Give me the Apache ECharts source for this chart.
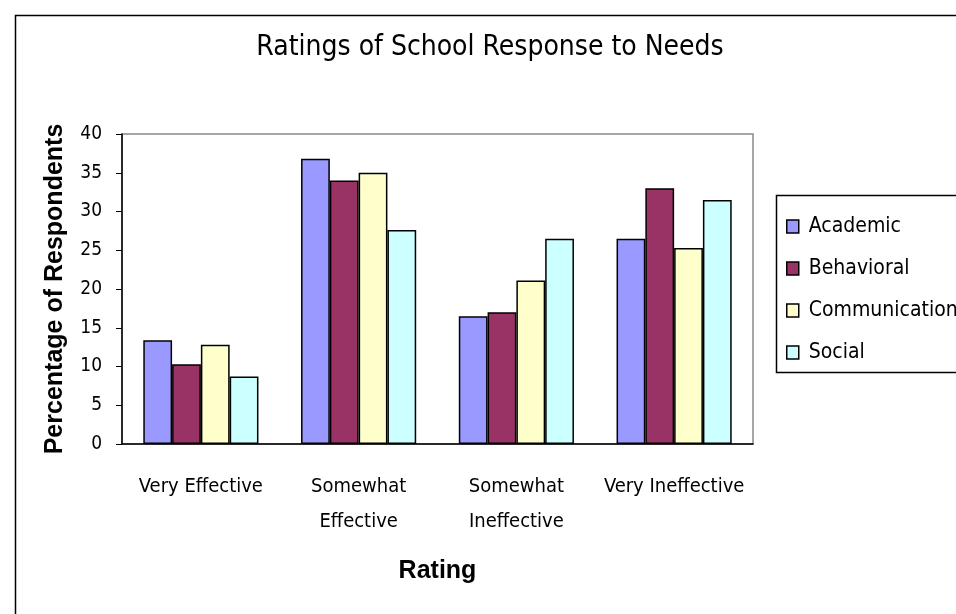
<!DOCTYPE html>
<html>
<head>
<meta charset="utf-8">
<title>Ratings of School Response to Needs</title>
<script src="https://cdn.jsdelivr.net/npm/echarts@6/dist/echarts.min.js"></script>
<style>
    html, body { margin: 0; padding: 0; background: #fff; }
    #main { width: 956px; height: 614px; }
</style>
</head>
<body>
<div id="main"></div>
<script>
    // data
    var categories = ['Very Effective', 'Somewhat\nEffective', 'Somewhat\nIneffective', 'Very Ineffective'];
    var seriesNames = ['Academic', 'Behavioral', 'Communication', 'Social'];
    var academic = [13.4, 36.8, 16.5, 26.5];
    var behavioral = [10.3, 34.0, 17.0, 33.0];
    var communication = [12.8, 35.0, 21.1, 25.3];
    var social = [8.7, 27.6, 26.5, 31.5];
    var yTicks = [0, 5, 10, 15, 20, 25, 30, 35, 40];

    var colors = ['#9999FF', '#993366', '#FFFFCC', '#CCFFFF'];
    var narrow = '"Liberation Sans Narrow", "DejaVu Sans Condensed", Arial, sans-serif';
    var bold = '"Liberation Sans", Arial, sans-serif';

    var myChart = echarts.init(document.getElementById('main'));

    function bar(name, data, i) {
        return {
            name: name,
            type: 'bar',
            data: data,
            barGap: '0%',
            barCategoryGap: '27%',
            itemStyle: {color: colors[i], borderColor: '#000', borderWidth: 1.5},
            emphasis: {disabled: true}
        };
    }

    var option = {
        animation: false,
        backgroundColor: '#fff',
        title: {
            text: 'Ratings of School Response to Needs',
            left: 485,
            textAlign: 'center',
            top: 29,
            textStyle: {fontFamily: narrow, fontSize: 28, fontWeight: 'normal', color: '#000'}
        },
        legend: {
            orient: 'vertical',
            left: 786,
            top: 216,
            padding: 0,
            itemWidth: 12,
            itemHeight: 13,
            itemGap: 21,
            icon: 'rect',
            data: seriesNames,
            itemStyle: {borderColor: '#000', borderWidth: 1.5},
            textStyle: {fontFamily: narrow, fontSize: 21, color: '#000', padding: [0, 0, 0, 5]}
        },
        grid: {
            left: 122,
            top: 134,
            width: 631,
            height: 310,
            show: true,
            borderColor: '#888',
            borderWidth: 1.5
        },
        xAxis: {
            type: 'category',
            data: categories,
            name: 'Rating',
            nameLocation: 'middle',
            nameGap: 115,
            nameTextStyle: {fontFamily: bold, fontSize: 25, fontWeight: 'bold', color: '#000'},
            axisLine: {lineStyle: {color: '#000', width: 1.5}},
            axisTick: {length: 10, lineStyle: {color: '#000'}},
            axisLabel: {
                margin: 25,
                fontFamily: narrow,
                fontSize: 20,
                lineHeight: 35,
                color: '#000',
                interval: 0
            }
        },
        yAxis: {
            type: 'value',
            min: yTicks[0],
            max: yTicks[yTicks.length - 1],
            interval: 5,
            name: 'Percentage of Respondents',
            nameLocation: 'middle',
            nameGap: 54,
            nameTextStyle: {fontFamily: bold, fontSize: 25, fontWeight: 'bold', color: '#000'},
            splitLine: {show: false},
            axisLine: {show: true, lineStyle: {color: '#000', width: 1.5}},
            axisTick: {show: true, length: 6, lineStyle: {color: '#000'}},
            axisLabel: {margin: 20, fontFamily: narrow, fontSize: 19, color: '#000'}
        },
        graphic: [
            {
                // outer chart frame
                type: 'rect',
                shape: {x: 15.5, y: 15.5, width: 1200, height: 1200},
                style: {fill: 'none', stroke: '#000', lineWidth: 1.5},
                silent: true
            },
            {
                // legend box
                type: 'rect',
                shape: {x: 776.5, y: 195.5, width: 400, height: 177},
                style: {fill: 'none', stroke: '#000', lineWidth: 1.5},
                silent: true
            }
        ],
        series: [
            bar(seriesNames[0], academic, 0),
            bar(seriesNames[1], behavioral, 1),
            bar(seriesNames[2], communication, 2),
            bar(seriesNames[3], social, 3)
        ]
    };
    myChart.setOption(option);
</script>
</body>
</html>
